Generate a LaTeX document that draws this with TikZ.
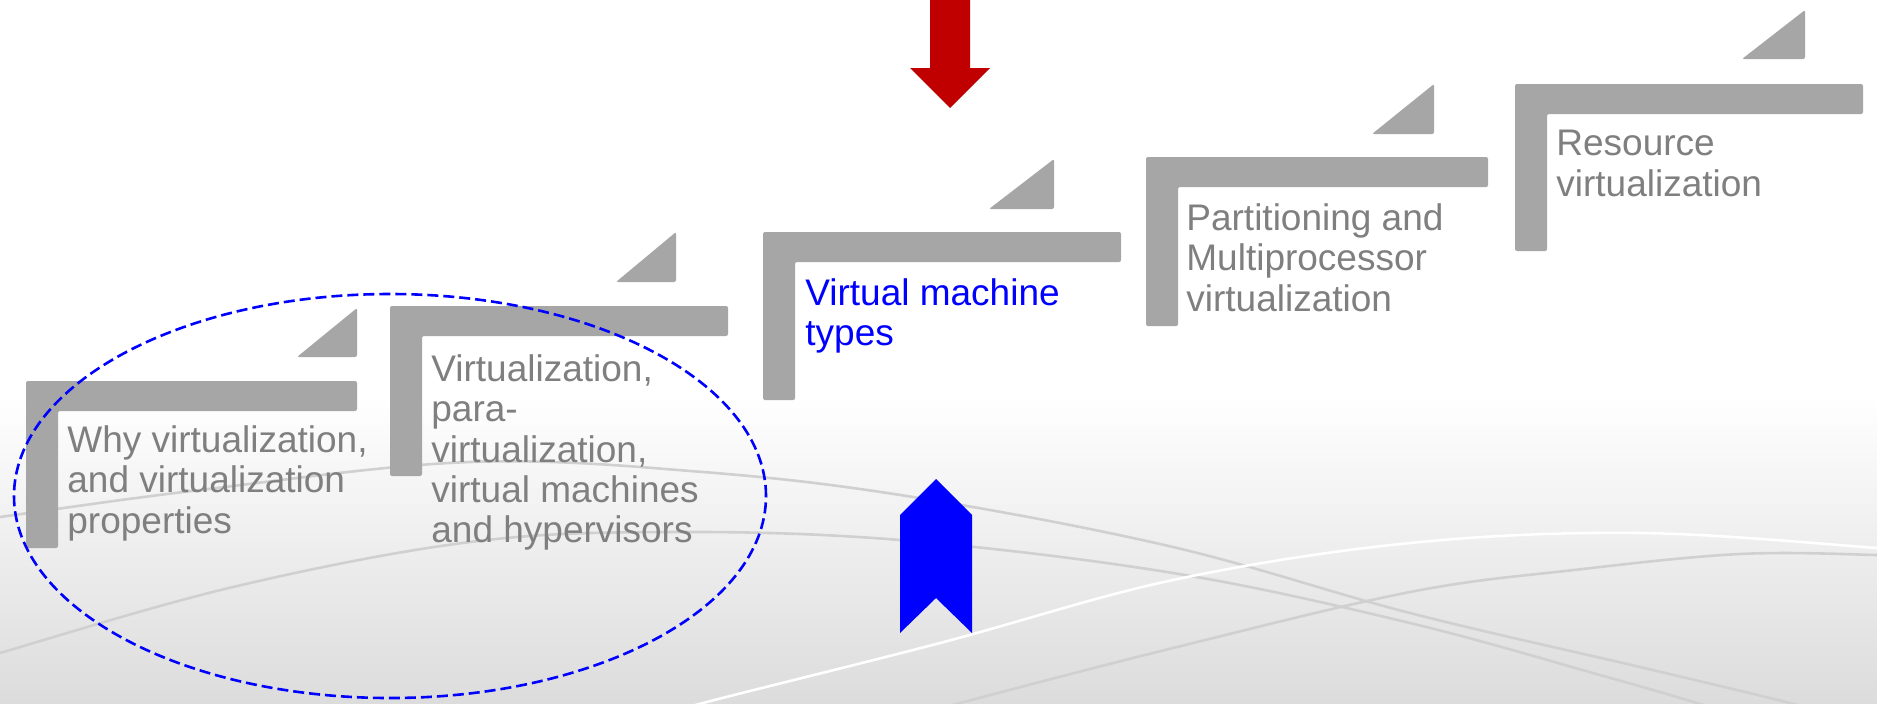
\documentclass[tikz,border=0pt]{standalone}
\usepackage{fontspec}
\setmainfont{Liberation Sans}
\definecolor{bargray}{HTML}{A6A6A6}
\definecolor{txtgray}{HTML}{7F7F7F}
\definecolor{arrowred}{HTML}{C00000}
\definecolor{bgbottom}{HTML}{DCDCDC}
\definecolor{wave}{HTML}{D0D0D0}
\newcommand\stepL[4]{%
  \fill[bar] (#1,#2) -- (#3,#2) -- (#3,#2+30) -- (#1+32,#2+30) -- (#1+32,#4) -- (#1,#4) -- cycle;}
\newcommand\stepTri[4]{%
  \fill[bar] (#1,#2) -- (#3,#4) -- (#3,#2) -- cycle;}
\begin{document}
\begin{tikzpicture}[x=0.5pt,y=-0.5pt,
  bar/.style={fill=bargray, rounded corners=1pt},
  gtext/.style={anchor=north west, inner sep=0pt, align=left, text=txtgray,
    font=\fontsize{18.5}{20.2}\selectfont},
  btext/.style={gtext, text=blue},
  waveline/.style={wave, line width=1.3pt},
  whiteline/.style={white, line width=1.3pt}]
\useasboundingbox (0,0) rectangle (1877,703);
% background
\fill[white] (0,0) rectangle (1877,703);
\shade[top color=white, bottom color=bgbottom] (0,395) rectangle (1877,703);
\begin{scope}
  \clip (0,0) rectangle (1877,703);
  \draw[waveline] plot[smooth, tension=0.6] coordinates {(-20,520) (0,517) (200,490) (470,462) (703,472) (913,497) (1173,547) (1410,613) (1640,667) (1790,703) (1850,720)};
  \draw[waveline] plot[smooth, tension=0.6] coordinates {(-20,660) (0,653) (233,587) (470,542) (670,532) (900,540) (1173,573) (1410,623) (1607,677) (1697,703) (1750,720)};
  \draw[waveline] plot[smooth, tension=0.6] coordinates {(900,720) (960,703) (1173,648) (1410,592) (1574,570) (1740,554) (1877,555) (1900,557)};
  \draw[whiteline] plot[smooth, tension=0.6] coordinates {(640,722) (703,703) (940,643) (1173,580) (1410,543) (1640,533) (1877,548) (1900,551)};
\end{scope}
% steps
\stepL{26}{381}{357}{548}
\stepL{390}{306}{728}{476}
\stepL{763}{232}{1121}{400}
\stepL{1146}{157}{1488}{326}
\stepL{1515}{84}{1863}{251}
\stepTri{297}{357}{357}{308}
\stepTri{616}{282}{676}{232}
\stepTri{989}{209}{1054}{159}
\stepTri{1372}{134}{1434}{84}
\stepTri{1742}{59}{1805}{10}
% texts
\node[gtext] (t1) at (67,425) {Why virtualization,\\and virtualization\\properties};
\node[gtext] (t2) at (431,354) {Virtualization,\\para-\\virtualization,\\virtual machines\\and hypervisors};
\node[btext] (t3) at (805,278) {Virtual machine\\types};
\node[gtext] (t4) at (1186,203) {Partitioning and\\Multiprocessor\\virtualization};
\node[gtext] (t5) at (1556,130) {Resource\\virtualization};
% red arrow
\fill[arrowred] (930,-2) -- (970,-2) -- (970,68) -- (990,68) -- (950,108) -- (910,68) -- (930,68) -- cycle;
% blue chevron
\fill[blue] (936,479) -- (972,515) -- (972,633) -- (936,598) -- (900,633) -- (900,515) -- cycle;
% dashed ellipse
\draw[blue, line width=1.3pt, dash pattern=on 5.5pt off 2.5pt] (390,496) ellipse [x radius=188pt, y radius=101pt];
\end{tikzpicture}
\end{document}
